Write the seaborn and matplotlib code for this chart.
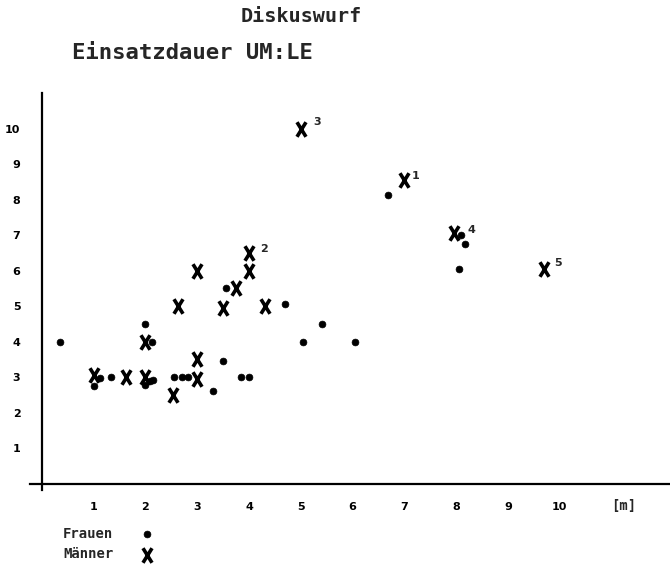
import numpy as np
import pandas as pd
import matplotlib
matplotlib.use("Agg")
import matplotlib.pyplot as plt
from matplotlib.path import Path
import seaborn as sns

# ---------------- data ----------------
title = "Diskuswurf"
subtitle = "Einsatzdauer UM:LE"
x_unit = "[m]"
x_ticks = [1, 2, 3, 4, 5, 6, 7, 8, 9, 10]
y_ticks = [1, 2, 3, 4, 5, 6, 7, 8, 9, 10]

frauen_x = [0.35, 1.0, 1.12, 1.33, 2.0, 2.12, 2.0, 2.08, 2.15, 2.55, 2.7, 2.83,
            3.3, 3.5, 3.55, 3.85, 4.0, 4.7, 5.05, 5.4, 6.05, 6.68, 8.1, 8.18, 8.05]
frauen_y = [4.0, 2.75, 2.97, 3.0, 4.5, 4.0, 2.78, 2.88, 2.92, 3.0, 3.0, 3.0,
            2.6, 3.45, 5.5, 3.0, 3.0, 5.05, 4.0, 4.5, 4.0, 8.13, 7.0, 6.75, 6.05]

maenner_x = [5.0, 7.0, 7.95, 9.7, 4.0, 3.0, 4.0, 3.75, 2.63, 3.5, 4.3,
             2.0, 3.0, 1.0, 1.62, 2.0, 3.0, 2.53]
maenner_y = [10.0, 8.55, 7.05, 6.05, 6.5, 6.0, 6.0, 5.5, 5.0, 4.95, 5.0,
             4.0, 3.5, 3.05, 3.0, 3.0, 2.95, 2.5]
maenner_lbl = ["3", "1", "4", "5", "2", "", "", "", "", "", "",
               "", "", "", "", "", "", ""]
lbl_offset = {"3": (12, 5), "1": (8, 3), "4": (13, 2), "5": (10, 4), "2": (11, 3)}

legend_labels = ["Frauen", "M\u00e4nner"]

df_f = pd.DataFrame({"x": frauen_x, "y": frauen_y})
df_m = pd.DataFrame({"x": maenner_x, "y": maenner_y})

# ---------------- style ----------------
sns.set_style("white")
plt.rcParams["font.family"] = ["DejaVu Sans"]
plt.rcParams["font.weight"] = "bold"

W, H = 670, 564
fig = plt.figure(figsize=(W / 100, H / 100), dpi=100)
ax = fig.add_axes([30 / W, (H - 490) / H, 640 / W, 397 / H])
ax.set_xlim(-0.23, 12.13)
ax.set_ylim(-0.18, 11.0)

# X marker: taller than wide
xmark = Path([(-0.62, -1), (0.62, 1), (-0.62, 1), (0.62, -1)],
             [Path.MOVETO, Path.LINETO, Path.MOVETO, Path.LINETO])

sns.scatterplot(data=df_f, x="x", y="y", ax=ax, marker="o", s=24,
                color="black", edgecolor="black", linewidth=0.5,
                label=legend_labels[0], zorder=3)
sns.scatterplot(data=df_m, x="x", y="y", ax=ax, marker=xmark, s=110,
                color="black", edgecolor="black", linewidth=2.6,
                label=legend_labels[1], zorder=4)

for xv, yv, lb in zip(maenner_x, maenner_y, maenner_lbl):
    if lb:
        ax.annotate(lb, (xv, yv), xytext=lbl_offset[lb], textcoords="offset points",
                    ha="center", va="center", fontsize=8, fontweight="bold")

# axes through origin
for s in ["top", "right"]:
    ax.spines[s].set_visible(False)
ax.spines["left"].set_position(("data", 0))
ax.spines["bottom"].set_position(("data", 0))
for s in ["left", "bottom"]:
    ax.spines[s].set_linewidth(1.6)
    ax.spines[s].set_color("black")

ax.set_xticks(x_ticks)
ax.set_yticks(y_ticks)
ax.set_xticklabels([str(t) for t in x_ticks], fontsize=8, fontweight="bold")
ax.set_yticklabels([str(t) for t in y_ticks], fontsize=8, fontweight="bold")
ax.tick_params(axis="x", direction="out", length=6, width=1.3, pad=7, colors="black")
ax.tick_params(axis="y", direction="out", length=4.5, width=1.3, pad=11, colors="black")
ax.set_xlabel("")
ax.set_ylabel("")

ax.text(11.23, -0.62, x_unit, ha="center", va="center", fontsize=10,
        fontweight="bold", family="DejaVu Sans Mono")

fig.text(301 / W, 1 - 16 / H, title, ha="center", va="center",
         fontsize=14.5, fontweight="bold", family="DejaVu Sans Mono")
fig.text(72 / W, 1 - 53 / H, subtitle, ha="left", va="center",
         fontsize=16, fontweight="bold", family="DejaVu Sans Mono")

leg = ax.legend(loc="upper left", bbox_to_anchor=(63 / W, 1 - 527 / H),
                bbox_transform=fig.transFigure, frameon=False, markerfirst=False,
                borderpad=0, borderaxespad=0, handlelength=1.0, handletextpad=1.9,
                labelspacing=0.45, scatterpoints=1,
                prop={"family": "DejaVu Sans Mono", "weight": "bold", "size": 10})

fig.savefig("out.png", dpi=100)
